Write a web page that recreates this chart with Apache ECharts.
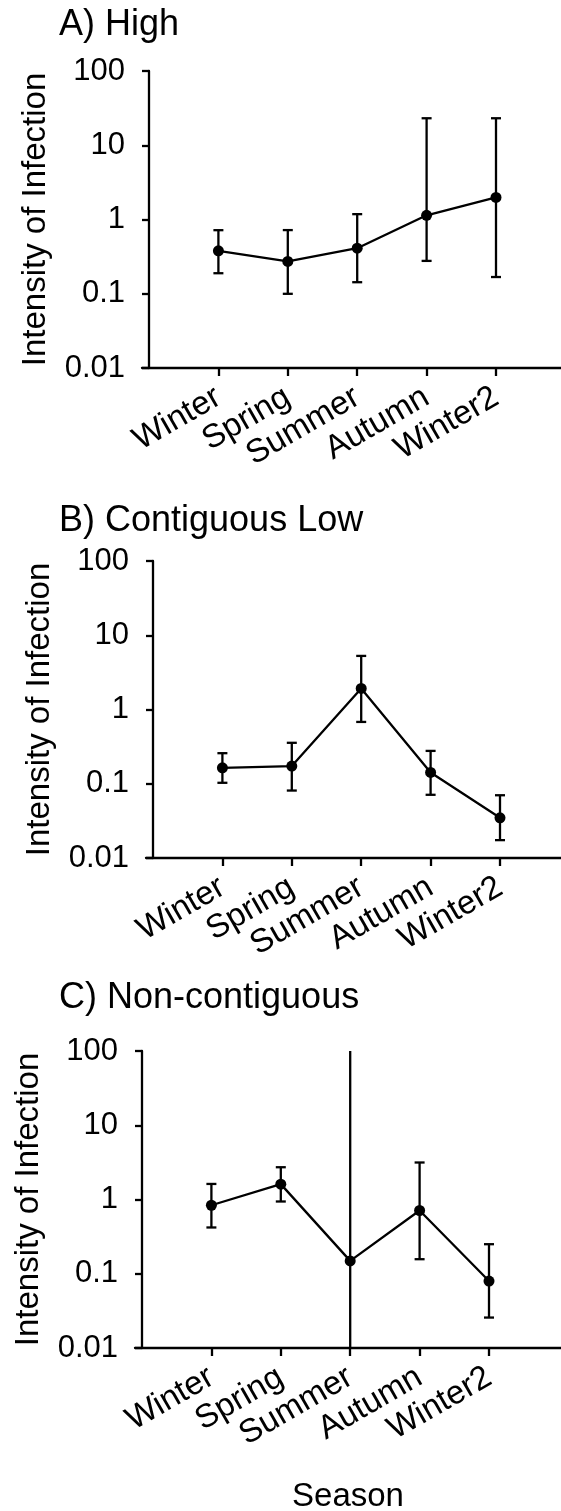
<!DOCTYPE html>
<html><head><meta charset="utf-8">
<script src="https://cdn.jsdelivr.net/npm/echarts@6/dist/echarts.min.js"></script>
<style>html,body{margin:0;padding:0;background:#fff}#c{width:561px;height:1511px}</style>
</head><body><div id="c"></div>
<script>
const categories = ['Winter', 'Spring', 'Summer', 'Autumn', 'Winter2'];
const yTickLabels = ['0.01', '0.1', '1', '10', '100'];
const panelTitles = ['A) High', 'B) Contiguous Low', 'C) Non-contiguous'];
const yAxisTitle = 'Intensity of Infection';
const xAxisTitle = 'Season';

const highMean  = [0.378, 0.272, 0.411, 1.14, 1.98];
const highUpper = [0.718, 0.72, 1.18, 23.1, 23.1];
const highLower = [0.189, 0.0998, 0.143, 0.277, 0.168];

const lowMean  = [0.164, 0.173, 1.92, 0.142, 0.0348];
const lowUpper = [0.258, 0.356, 5.27, 0.277, 0.070];
const lowLower = [0.103, 0.081, 0.68, 0.071, 0.0174];

const nonMean  = [0.837, 1.61, 0.149, 0.711, 0.0798];
const nonUpper = [1.62, 2.72, 150, 3.15, 0.25];
const nonLower = [0.42, 0.94, 0.005, 0.157, 0.0257];

const FONT = "'Liberation Sans', Arial, sans-serif";
const LW = 2.3;
const panels = [
  {mean: highMean, upper: highUpper, lower: highLower, axisX: 149, top: 71, titleTop: 6.6},
  {mean: lowMean, upper: lowUpper, lower: lowLower, axisX: 153, top: 561, titleTop: 503.3},
  {mean: nonMean, upper: nonUpper, lower: nonLower, axisX: 142, top: 1051, titleTop: 979.6}
];
const PLOT_H = 297;
const TICK_SPACING = 69.4;
const CHART_W = 561;
const EXT = 7; // x axis line extends left of the y axis by the y tick length

function renderErr(params, api) {
  const x = api.value(0), lo = api.value(1), hi = api.value(2);
  const pLo = api.coord([x, lo]);
  const pHi = api.coord([x, hi]);
  const hw = 5;
  const style = {stroke: '#000', lineWidth: LW, fill: null};
  return {type: 'group', children: [
    {type: 'line', shape: {x1: pLo[0], y1: pLo[1], x2: pHi[0], y2: pHi[1]}, style: style},
    {type: 'line', shape: {x1: pLo[0] - hw, y1: pLo[1], x2: pLo[0] + hw, y2: pLo[1]}, style: style},
    {type: 'line', shape: {x1: pHi[0] - hw, y1: pHi[1], x2: pHi[0] + hw, y2: pHi[1]}, style: style}
  ]};
}

const idx = categories.map((c, i) => i);
const option = {
  backgroundColor: '#fff',
  animation: false,
  title: [], grid: [], xAxis: [], yAxis: [], series: []
};

panels.forEach((p, k) => {
  const left = p.axisX - EXT;
  const w = CHART_W - left;
  option.title.push({
    text: panelTitles[k], left: 59, top: p.titleTop, padding: 0,
    textStyle: {fontSize: 36, fontWeight: 'normal', color: '#000', fontFamily: FONT}
  });
  option.grid.push({left: left, top: p.top, width: w, height: PLOT_H, containLabel: false, outerBoundsMode: 'none'});
  const xMin = -1 - EXT / TICK_SPACING;
  const xMax = xMin + w / TICK_SPACING;
  option.xAxis.push({
    type: 'value', gridIndex: k, min: xMin, max: xMax,
    axisLine: {show: true, onZero: false, lineStyle: {color: '#000', width: LW}},
    axisTick: {show: true, length: 8, customValues: idx, lineStyle: {color: '#000', width: LW}},
    axisLabel: {
      customValues: idx, rotate: 30, margin: 27, color: '#000', fontSize: 33, fontFamily: FONT,
      formatter: v => (categories[Math.round(v)] !== undefined && Math.abs(v - Math.round(v)) < 1e-6) ? categories[Math.round(v)] : ''
    },
    splitLine: {show: false},
    name: k === 2 ? xAxisTitle : '', nameLocation: 'middle', nameGap: 132,
    nameTextStyle: {fontSize: 33, color: '#000', fontFamily: FONT}
  });
  option.yAxis.push({
    type: 'log', logBase: 10, min: 0.01, max: 100, gridIndex: k, offset: -EXT,
    axisLine: {show: true, onZero: false, lineStyle: {color: '#000', width: LW}},
    axisTick: {show: true, length: 7, lineStyle: {color: '#000', width: LW}},
    minorTick: {show: false},
    axisLabel: {
      color: '#000', fontSize: 31, fontFamily: FONT, margin: 24,
      formatter: v => yTickLabels[Math.round(Math.log10(v)) + 2]
    },
    splitLine: {show: false},
    name: yAxisTitle, nameLocation: 'middle', nameRotate: 90, nameGap: 97,
    nameTextStyle: {fontSize: 33, color: '#000', fontFamily: FONT}
  });
  option.series.push({
    type: 'custom', xAxisIndex: k, yAxisIndex: k, clip: true,
    renderItem: renderErr,
    encode: {x: 0, y: [1, 2]},
    data: p.mean.map((m, i) => [i, p.lower[i], p.upper[i]]),
    z: 2
  });
  option.series.push({
    type: 'line', xAxisIndex: k, yAxisIndex: k,
    data: p.mean.map((m, i) => [i, m]),
    symbol: 'circle', symbolSize: 11, showSymbol: true,
    itemStyle: {color: '#000'},
    lineStyle: {color: '#000', width: LW},
    z: 3
  });
});

const chart = echarts.init(document.getElementById('c'), null, {renderer: 'canvas'});
chart.setOption(option);
</script>
</body></html>
